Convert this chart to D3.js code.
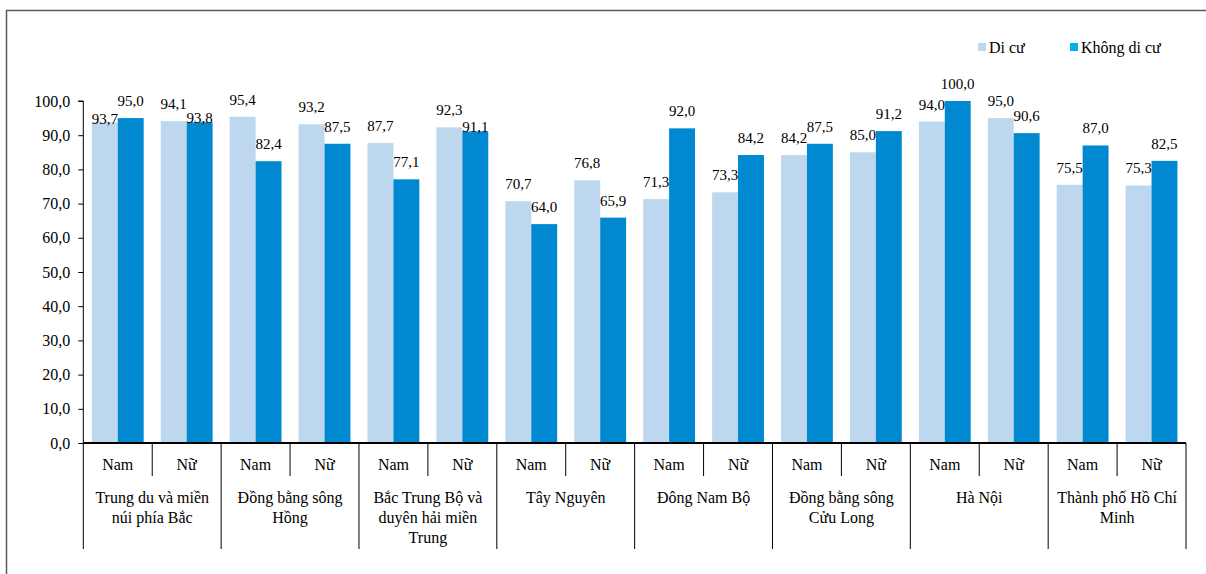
<!DOCTYPE html>
<html>
<head>
<meta charset="utf-8">
<script src="https://cdn.jsdelivr.net/npm/d3@7"></script>
<style>
  html, body { margin: 0; padding: 0; background: #fff; }
  svg { display: block; }
</style>
</head>
<body>
<svg id="chart" width="1206" height="574"></svg>
<script>
// Regions and the two sex sub-groups under each one
const regions = [
  "Trung du và miền núi phía Bắc",
  "Đồng bằng sông Hồng",
  "Bắc Trung Bộ và duyên hải miền Trung",
  "Tây Nguyên",
  "Đông Nam Bộ",
  "Đồng bằng sông Cửu Long",
  "Hà Nội",
  "Thành phố Hồ Chí Minh"
];
const sexes = ["Nam", "Nữ"];

// Series names
const seriesNames = ["Di cư", "Không di cư"];

// Values in order: region 1 Nam, region 1 Nữ, region 2 Nam, ...
const migrant    = [93.7, 94.1, 95.4, 93.2, 87.7, 92.3, 70.7, 76.8, 71.3, 73.3, 84.2, 85.0, 94.0, 95.0, 75.5, 75.3];
const nonMigrant = [95.0, 93.8, 82.4, 87.5, 77.1, 91.1, 64.0, 65.9, 92.0, 84.2, 87.5, 91.2, 100.0, 90.6, 87.0, 82.5];

// Y-axis ticks
const yTicks = [0, 10, 20, 30, 40, 50, 60, 70, 80, 90, 100];

const barColors = ["#bdd7ee", "#0088d1"];
const legendColors = ["#bdd7ee", "#00b0f0"];
const FONT = "Liberation Serif";

const svg = d3.select("#chart");
const plotLeft = 83.3, plotRight = 1186, plotTop = 101, plotBottom = 443;

// Outer frame
svg.append("path")
  .attr("d", `M6.5,580 V10.5 H1210`)
  .attr("fill", "none")
  .attr("stroke", "#5a5a5a")
  .attr("stroke-width", 1.5);

const vn = v => d3.format(".1f")(v).replace(".", ",");

// One entry per sub-group (region × sex)
const groups = [];
regions.forEach((r, ri) => sexes.forEach((s, si) => {
  const i = ri * sexes.length + si;
  groups.push({ key: i, region: r, sex: s, values: [migrant[i], nonMigrant[i]] });
}));

const y = d3.scaleLinear().domain([0, 100]).range([plotBottom, plotTop]);
const x0 = d3.scaleBand().domain(groups.map(g => g.key)).range([plotLeft, plotRight])
  .paddingInner(0.248).paddingOuter(0.124);
const x1 = d3.scaleBand().domain([0, 1]).range([0, x0.bandwidth()]);
const regionX = d3.scaleBand().domain(regions).range([plotLeft, plotRight]);

// Bars
const g = svg.append("g");
const gg = g.selectAll("g.grp").data(groups).join("g")
  .attr("transform", d => `translate(${x0(d.key)},0)`);
gg.selectAll("rect").data(d => d.values.map((v, k) => ({ v, k }))).join("rect")
  .attr("x", d => x1(d.k))
  .attr("width", x1.bandwidth())
  .attr("y", d => y(d.v))
  .attr("height", d => y(0) - y(d.v))
  .attr("fill", d => barColors[d.k]);

// Value labels; when the two labels of a pair would collide, the lower one sits on its bar
gg.each(function (d) {
  const tops = d.values.map(v => y(v));
  const pos = tops.map(t => t - 12);
  if (Math.abs(tops[0] - tops[1]) < 10) {
    const lo = tops[0] > tops[1] ? 0 : 1;
    pos[lo] = tops[lo] + 1;
  }
  d3.select(this).selectAll("text.val").data(d.values).join("text")
    .attr("class", "val")
    .attr("x", (v, k) => x1(k) + x1.bandwidth() / 2)
    .attr("y", (v, k) => pos[k])
    .attr("text-anchor", "middle")
    .attr("font-family", FONT)
    .attr("font-size", 15)
    .attr("fill", "#000")
    .text(v => vn(v));
});

// Y axis
const yAxis = d3.axisLeft(y).tickValues(yTicks).tickSize(5).tickPadding(8).tickFormat(vn);
const ya = svg.append("g").attr("transform", `translate(${plotLeft},0)`).call(yAxis);
ya.select(".domain").attr("stroke", "#000").attr("stroke-width", 1).attr("d", `M-5,${plotTop}H0V${plotBottom}`);
ya.selectAll(".tick line").attr("stroke", "#000");
ya.selectAll(".tick text").attr("font-family", FONT).attr("font-size", 16).attr("fill", "#000");

// X baseline
svg.append("line").attr("x1", plotLeft).attr("x2", plotRight).attr("y1", plotBottom).attr("y2", plotBottom)
  .attr("stroke", "#000").attr("stroke-width", 2);

// Sub-group separators and sex labels
const subStep = x0.step();
groups.forEach((d, i) => {
  const xl = plotLeft + i * subStep;
  const isRegionEdge = i % sexes.length === 0;
  svg.append("line").attr("x1", xl).attr("x2", xl).attr("y1", plotBottom)
    .attr("y2", isRegionEdge ? 549 : 476).attr("stroke", "#000").attr("stroke-width", 1);
  svg.append("text").attr("x", xl + subStep / 2).attr("y", 470)
    .attr("text-anchor", "middle").attr("font-family", FONT).attr("font-size", 16).text(d.sex);
});
svg.append("line").attr("x1", plotRight).attr("x2", plotRight).attr("y1", plotBottom).attr("y2", 549)
  .attr("stroke", "#000").attr("stroke-width", 1);

// Region labels, wrapped to the region width
regions.forEach(r => {
  const cx = regionX(r) + regionX.bandwidth() / 2;
  const t = svg.append("text").attr("x", cx).attr("y", 503)
    .attr("text-anchor", "middle").attr("font-family", FONT).attr("font-size", 16);
  const words = r.split(" ");
  let line = [];
  let ts = t.append("tspan").attr("x", cx).attr("dy", 0);
  words.forEach(w => {
    line.push(w);
    ts.text(line.join(" "));
    if (ts.node().getComputedTextLength() > 126 && line.length > 1) {
      line.pop();
      ts.text(line.join(" "));
      line = [w];
      ts = t.append("tspan").attr("x", cx).attr("dy", 20).text(w);
    }
  });
});

// Legend
const legendX = [978, 1070];
seriesNames.forEach((n, k) => {
  svg.append("rect").attr("x", legendX[k]).attr("y", 43).attr("width", 8).attr("height", 8)
    .attr("fill", legendColors[k]);
  svg.append("text").attr("x", legendX[k] + 11).attr("y", 52.5)
    .attr("font-family", FONT).attr("font-size", 16).text(n);
});
</script>
</body>
</html>
